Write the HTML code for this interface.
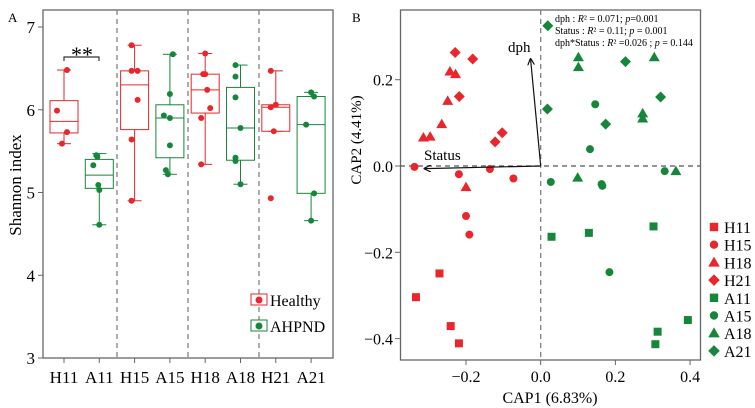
<!DOCTYPE html>
<html><head><meta charset="utf-8"><style>
body{margin:0;background:#fff}
svg{display:block;font-family:"Liberation Serif",serif}
</style></head><body>
<svg id="c" width="755" height="408" xmlns="http://www.w3.org/2000/svg"></svg>
<script>
const RED='#e8262b',GREEN='#16873a';
// Panel A data
const catsA=['H11','A11','H15','A15','H18','A18','H21','A21'];
const whiskHi=[6.48,5.47,6.78,6.67,6.68,6.54,6.47,6.21];
const whiskLo=[5.59,4.61,4.90,5.22,5.34,5.10,5.74,4.66];
const q3=[6.11,5.40,6.47,6.06,6.43,6.27,6.06,6.16];
const q1=[5.72,5.05,5.76,5.42,5.96,5.39,5.74,4.99];
const med=[5.86,5.21,6.30,5.90,6.24,5.78,6.03,5.82];
const ptsA=[[6.48,5.99,5.73,5.59],[5.45,5.43,5.33,5.09,5.03,4.61],[6.78,6.47,6.47,6.12,5.64,4.90],[6.67,6.19,5.93,5.90,5.57,5.27,5.22],[6.68,6.43,6.43,6.24,6.02,5.90,5.34],[6.54,6.40,6.15,5.78,5.42,5.38,5.10],[6.47,6.06,6.03,5.74,4.93],[6.21,6.16,5.82,4.99,4.66]];
const jit=[[3,-7,3,-2],[-3,-2,-6,-1,0,0],[-3,-3,3,3,-3,-3],[3,0,-6,0,0,-4,-2],[0,-2,0,2,5,-4,-4],[-5,-5,-5,0,-5,-5,0],[-5,0,-5,-2,-5],[0,3,-5,3,0]];
const ticksA=[3,4,5,6,7];
// Panel B data
const groupsB=['H11','H15','H18','H21','A11','A15','A18','A21'];
const shapesB=['sq','ci','tr','di','sq','ci','tr','di'];
const ptsB=[
[[-0.271,-0.249],[-0.334,-0.304],[-0.241,-0.371],[-0.219,-0.411]],
[[-0.338,-0.002],[-0.219,-0.019],[-0.136,-0.007],[-0.073,-0.029],[-0.2,-0.116],[-0.191,-0.159]],
[[-0.314,0.066],[-0.296,0.068],[-0.265,0.097],[-0.249,0.151],[-0.243,0.219],[-0.228,0.213],[-0.2,-0.049]],
[[-0.229,0.263],[-0.182,0.248],[-0.218,0.161],[-0.122,0.056],[-0.103,0.077]],
[[0.029,-0.164],[0.129,-0.155],[0.302,-0.14],[0.394,-0.357],[0.313,-0.384],[0.307,-0.413]],
[[0.146,0.143],[0.132,0.039],[0.027,-0.037],[0.163,-0.042],[0.165,-0.046],[0.332,-0.012],[0.184,-0.246]],
[[0.101,0.252],[0.101,0.229],[0.304,0.252],[0.273,0.122],[0.273,0.11],[0.099,-0.027],[0.362,-0.012]],
[[0.019,0.325],[0.227,0.242],[0.321,0.160],[0.018,0.132],[0.174,0.097]]];
const arrowDph=[-0.027,0.247], arrowStatus=[-0.31,-0.006];
const xticksB=[-0.2,0.0,0.2,0.4], yticksB=[0.2,0.0,-0.2,-0.4];

const svg=document.getElementById('c');
const NS='http://www.w3.org/2000/svg';
function mk(tag,attrs,parent,name,text){const e=document.createElementNS(NS,tag);for(const k in attrs)e.setAttribute(k,attrs[k]);


if(text!==undefined)e.textContent=text;(parent||svg).appendChild(e);return e;}

// ---- Panel A
const yA=v=>358-(v-3)*82.75;
const xA=i=>64+i*35.3;
mk('text',{x:8,y:22,'font-size':13},null,'panel-a-label','A');
mk('rect',{x:43,y:10,width:290,height:348,fill:'none',stroke:'#666','stroke-width':1.3},null,'panel-a-frame');
[117,188,259].forEach((x,i)=>mk('line',{x1:x,x2:x,y1:10,y2:358,stroke:'#777','stroke-dasharray':'5,4','stroke-width':1.2},null,'group-divider'));
ticksA.forEach(t=>{mk('line',{x1:38,x2:43,y1:yA(t),y2:yA(t),stroke:'#666'},null,'y-tick');
mk('text',{x:35,y:yA(t)+6,'font-size':17,'text-anchor':'end'},null,'y-tick-label',t);});
mk('text',{x:0,y:0,'font-size':17,'text-anchor':'middle',transform:'translate(21,185) rotate(-90)'},null,'y-axis-title','Shannon index');
catsA.forEach((c,i)=>{
 const x=xA(i),col=c[0]==='H'?RED:GREEN,g=mk('g',{},null,'box-'+c.toLowerCase());
 mk('line',{x1:x,x2:x,y1:358,y2:363,stroke:'#666'},null,'x-tick');
 mk('text',{x:x,y:383,'font-size':17,'text-anchor':'middle'},null,'x-tick-label',c);
 mk('line',{x1:x,x2:x,y1:yA(whiskHi[i]),y2:yA(whiskLo[i]),stroke:col},g,'whisker');
 [whiskHi[i],whiskLo[i]].forEach(v=>mk('line',{x1:x-7,x2:x+7,y1:yA(v),y2:yA(v),stroke:col},g,'whisker-cap'));
 mk('rect',{x:x-14,y:yA(q3[i]),width:28,height:yA(q1[i])-yA(q3[i]),fill:'#fff',stroke:col},g,'box');
 mk('line',{x1:x-14,x2:x+14,y1:yA(med[i]),y2:yA(med[i]),stroke:col},g,'median');
 ptsA[i].forEach((v,j)=>mk('circle',{cx:x+jit[i][j],cy:yA(v),r:3,fill:col},g,'data-point'));
});
mk('path',{d:'M64 61 V57 H99 V61',fill:'none',stroke:'#333','stroke-width':1.2},null,'significance-bracket');
mk('text',{x:82,y:62,'font-size':22,'text-anchor':'middle'},null,'significance-stars','**');
[[RED,'Healthy',300],[GREEN,'AHPND',326]].forEach(([col,t,y])=>{
 const g=mk('g',{},null,'legend-entry-'+t.toLowerCase());
 mk('rect',{x:251,y:y-6,width:16,height:11,fill:'#fff',stroke:col},g,'legend-box');
 mk('circle',{cx:259,cy:y,r:3.5,fill:col},g,'legend-dot');
 mk('text',{x:270,y:y+6,'font-size':16},g,'legend-label',t);
});

// ---- Panel B
const xB=v=>540.7+v*373.5, yB=v=>166-v*431.5;
mk('text',{x:352,y:22,'font-size':13},null,'panel-b-label','B');
mk('rect',{x:400.5,y:10,width:300,height:350,fill:'none',stroke:'#666','stroke-width':1.3},null,'panel-b-frame');
mk('line',{x1:xB(0),x2:xB(0),y1:10,y2:360,stroke:'#777','stroke-dasharray':'5,4','stroke-width':1.2},null,'zero-vline');
mk('line',{x1:400,x2:700,y1:yB(0),y2:yB(0),stroke:'#555','stroke-dasharray':'5,4','stroke-width':1.2},null,'zero-hline');
xticksB.forEach(t=>{mk('line',{x1:xB(t),x2:xB(t),y1:360,y2:365,stroke:'#666'},null,'x-tick');
mk('text',{x:xB(t),y:382,'font-size':16,'text-anchor':'middle'},null,'x-tick-label',(t<0?'\u2212':'')+Math.abs(t).toFixed(1));});
yticksB.forEach(t=>{mk('line',{x1:395,x2:400,y1:yB(t),y2:yB(t),stroke:'#666'},null,'y-tick');
mk('text',{x:393,y:yB(t)+6,'font-size':16,'text-anchor':'end'},null,'y-tick-label',(t<0?'\u2212':'')+Math.abs(t).toFixed(1));});
mk('text',{x:550,y:403,'font-size':16,'text-anchor':'middle'},null,'x-axis-title','CAP1 (6.83%)');
mk('text',{x:0,y:0,'font-size':15,'text-anchor':'middle',transform:'translate(361,140) rotate(-90)'},null,'y-axis-title','CAP2 (4.41%)');
function marker(shape,cx,cy,col,parent,name,s){s=s||1;
 if(shape==='sq')return mk('rect',{x:cx-4*s,y:cy-4*s,width:8*s,height:8*s,fill:col},parent,name);
 if(shape==='ci')return mk('circle',{cx:cx,cy:cy,r:4*s,fill:col},parent,name);
 if(shape==='tr')return mk('polygon',{points:`${cx},${cy-5.5*s} ${cx-5.5*s},${cy+4*s} ${cx+5.5*s},${cy+4*s}`,fill:col},parent,name);
 return mk('polygon',{points:`${cx},${cy-5.5*s} ${cx+5.5*s},${cy} ${cx},${cy+5.5*s} ${cx-5.5*s},${cy}`,fill:col},parent,name);}
groupsB.forEach((gname,i)=>{const col=gname[0]==='H'?RED:GREEN,g=mk('g',{},null,'series-'+gname.toLowerCase());
 ptsB[i].forEach(p=>marker(shapesB[i],xB(p[0]),yB(p[1]),col,g,'point-'+gname.toLowerCase()));
 const ly=227+i*17.7,lg=mk('g',{},null,'legend-entry-'+gname.toLowerCase());
 marker(shapesB[i],714,ly,col,lg,'legend-marker',1.05);
 mk('text',{x:724,y:ly+6,'font-size':16},lg,'legend-label',gname);
});
mk('defs',{},null,'defs').innerHTML='<marker id="ah" markerWidth="6" markerHeight="6" refX="5" refY="3" orient="auto"><path d="M0,0 L6,3 L0,6" fill="none" stroke="#111"/></marker>';
mk('line',{x1:xB(0),y1:yB(0),x2:xB(arrowDph[0]),y2:yB(arrowDph[1]),stroke:'#111','stroke-width':1.2,'marker-end':'url(#ah)'},null,'dph-arrow');
mk('line',{x1:xB(0),y1:yB(0),x2:xB(arrowStatus[0]),y2:yB(arrowStatus[1]),stroke:'#111','stroke-width':1.2,'marker-end':'url(#ah)'},null,'status-arrow');
mk('text',{x:508,y:52,'font-size':15},null,'dph-label','dph');
mk('text',{x:424,y:160,'font-size':15},null,'status-label','Status');
const ann=mk('g',{'font-size':10},null,'stats-annotation');
mk('text',{x:555,y:22},ann,'stat-dph').innerHTML='dph : <tspan font-style="italic">R</tspan>² = 0.071; <tspan font-style="italic">p</tspan>=0.001';
mk('text',{x:555,y:34},ann,'stat-status').innerHTML='Status : <tspan font-style="italic">R</tspan>² = 0.11; <tspan font-style="italic">p</tspan> = 0.001';
mk('text',{x:555,y:46},ann,'stat-interaction').innerHTML='dph*Status : <tspan font-style="italic">R</tspan>² =0.026 ; <tspan font-style="italic">p</tspan> = 0.144';
</script>
</body></html>
